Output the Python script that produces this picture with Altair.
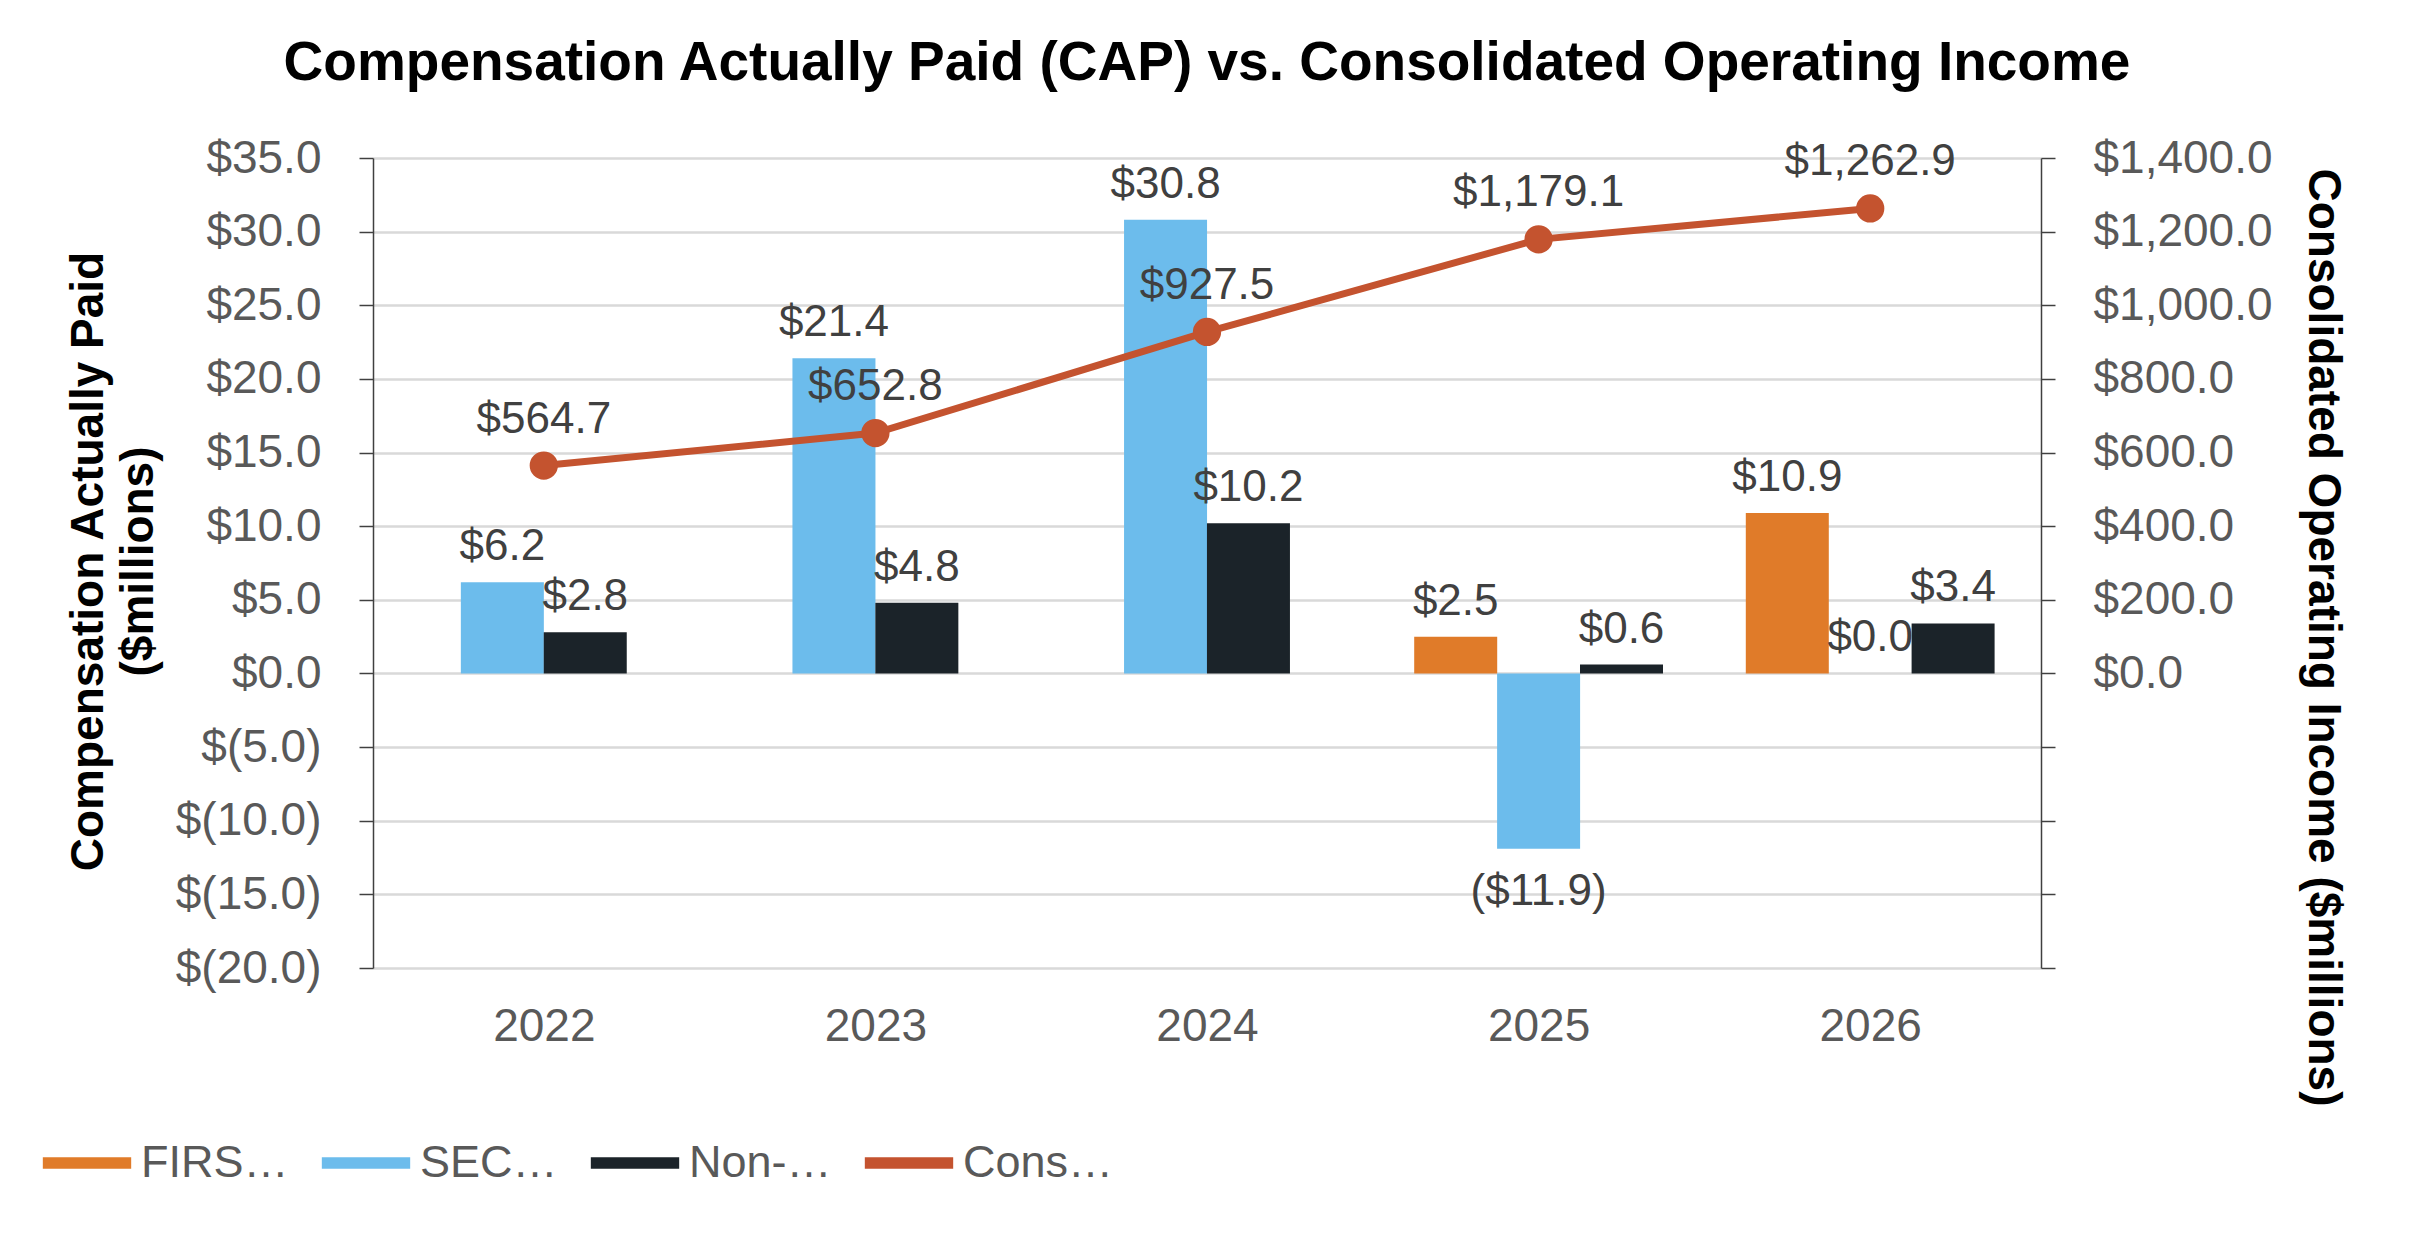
import altair as alt
import pandas as pd

# ---------------- data ----------------
years = ["2022", "2023", "2024", "2025", "2026"]
series_names = ["FIRST PEO CAP", "SECOND PEO CAP", "Non-PEO NEO CAP"]
first_peo_cap = [None, None, None, 2.5, 10.9]
second_peo_cap = [6.2, 21.4, 30.8, -11.9, 0.0]
non_peo_neo_cap = [2.8, 4.8, 10.2, 0.6, 3.4]
operating_income = [564.7, 652.8, 927.5, 1179.1, 1262.9]
line_name = "Consolidated Operating Income"

bar_colors = ["#E07B29", "#6CBCEC", "#1B2329"]
line_color = "#C4532F"

FONT = "Liberation Sans, Arial, Helvetica, sans-serif"
W, H = 1668, 810
SLOT = 0.25  # fraction of a category step taken by one bar

rows = []
for i, yr in enumerate(years):
    vals = [(n, v) for n, v in zip(series_names, [first_peo_cap[i], second_peo_cap[i], non_peo_neo_cap[i]]) if v is not None]
    n = len(vals)
    for k, (name, v) in enumerate(vals):
        rows.append({"year": yr, "series": name, "v": v, "xpos": i + (k - (n - 1) / 2) * SLOT})
bars_df = pd.DataFrame(rows)
line_df = pd.DataFrame({"year": years, "xpos": list(range(len(years))), "coi": operating_income})

xscale = alt.Scale(domain=[-0.5, len(years) - 0.5], nice=False, zero=False)
yscale_l = alt.Scale(domain=[-20, 35], nice=False, zero=False)
yscale_r = alt.Scale(domain=[-800, 1400], nice=False, zero=False)
all_names = series_names + [line_name]
color_scale = alt.Scale(domain=all_names, range=bar_colors + [line_color])

year_expr = ""
for i, yr in enumerate(years):
    year_expr += f"datum.value == {i} ? '{yr}' : "
year_expr += "''"
left_expr = "datum.value < 0 ? '$(' + format(-datum.value, '.1f') + ')' : format(datum.value, '$.1f')"
right_expr = "datum.value < 0 ? '' : format(datum.value, '$,.1f')"
barlab_expr = "datum.v < 0 ? '($' + format(-datum.v, '.1f') + ')' : format(datum.v, '$.1f')"

rect_path = "M-0.94,-0.12H0.94V0.12H-0.94Z"

x_axis = alt.Axis(values=list(range(len(years))), labelExpr=year_expr, grid=False, domain=False,
                  ticks=False, labelPadding=36, labelFontSize=46, labelColor="#595959",
                  labelFont=FONT, title=None, labelOverlap=False)

left_axis = alt.Axis(values=list(range(-20, 36, 5)), labelExpr=left_expr, grid=True, gridColor="#D9D9D9",
                     gridWidth=2.5, domain=True, domainColor="#404040", domainWidth=1.5, ticks=True,
                     tickColor="#404040", tickSize=14, tickWidth=1.5, labelPadding=38, labelFontSize=46,
                     labelColor="#595959", labelFont=FONT,
                     title=["Compensation Actually Paid", "($millions)"], titleFont=FONT, titleFontSize=46,
                     titleFontWeight="bold", titleColor="black", titleX=-285, titleY=403, titleAngle=270,
                     titleAlign="center", titleBaseline="middle", titleLineHeight=50)

right_axis = alt.Axis(orient="right", values=list(range(-800, 1401, 200)), labelExpr=right_expr, grid=False,
                      domain=True, domainColor="#404040", domainWidth=1.5, ticks=True, tickColor="#404040",
                      tickSize=14, tickWidth=1.5, labelPadding=38, labelFontSize=46, labelColor="#595959",
                      labelFont=FONT, title="Consolidated Operating Income ($millions)", titleFont=FONT,
                      titleFontSize=46, titleFontWeight="bold", titleColor="black", titleX=281, titleY=479,
                      titleAngle=90, titleAlign="center", titleBaseline="middle")

legend = alt.Legend(orient="none", legendX=-333, legendY=958, direction="horizontal", title=None,
                    symbolType=rect_path, symbolSize=8836, labelFontSize=45, labelColor="#595959",
                    labelFont=FONT, labelOffset=7, columnPadding=30, padding=0, symbolStrokeWidth=0)

X = alt.X("xpos:Q", scale=xscale, axis=x_axis)
YL = alt.Y("v:Q", scale=yscale_l, axis=left_axis)
YR = alt.Y("coi:Q", scale=yscale_r, axis=right_axis)

base_b = alt.Chart(bars_df)
bars = base_b.mark_bar(size=83).encode(
    x=X, y=YL,
    fill=alt.Fill("series:N", scale=color_scale, legend=legend),
)
pos_labels = base_b.transform_filter("datum.v >= 0").transform_calculate(lab=barlab_expr).mark_text(
    font=FONT, fontSize=44, color="#404040", baseline="alphabetic", dy=-22
).encode(x=X, y=YL, text="lab:N")
neg_labels = base_b.transform_filter("datum.v < 0").transform_calculate(lab=barlab_expr).mark_text(
    font=FONT, fontSize=44, color="#404040", baseline="top", dy=21
).encode(x=X, y=YL, text="lab:N")

left_layer = alt.layer(bars, pos_labels, neg_labels)

base_l = alt.Chart(line_df)
line = base_l.mark_line(color=line_color, strokeWidth=7).encode(x=X, y=YR)
points = base_l.mark_point(filled=True, shape="circle", size=800, color=line_color, opacity=1).encode(x=X, y=YR)
line_labels = base_l.transform_calculate(lab="format(datum.coi, '$,.1f')").mark_text(
    font=FONT, fontSize=44, color="#404040", baseline="alphabetic", dy=-33
).encode(x=X, y=YR, text="lab:N")

right_layer = alt.layer(line, points, line_labels)

chart = alt.layer(left_layer, right_layer).resolve_scale(y="independent").properties(
    width=W, height=H,
    autosize=alt.AutoSizeParams(type="none"),
    padding={"left": 365, "top": 150, "right": 355, "bottom": 274},
    background="white",
    title=alt.TitleParams(text="Compensation Actually Paid (CAP) vs. Consolidated Operating Income",
                          font=FONT, fontSize=55, fontWeight="bold", color="black", anchor="middle",
                          frame="group", baseline="alphabetic", offset=0),
).configure_view(strokeWidth=0)

chart.save("out.html", embed_options={"renderer": "svg", "actions": False})
